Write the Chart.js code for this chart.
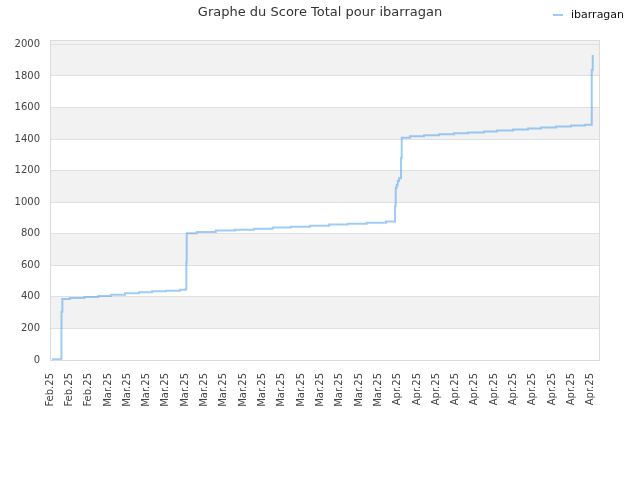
<!DOCTYPE html>
<html>
<head>
<meta charset="utf-8">
<script src="https://cdn.jsdelivr.net/npm/chart.js@4"></script>
<style>
html,body{margin:0;padding:0;background:#fff;}
#wrap{width:640px;height:480px;position:relative;}
</style>
</head>
<body>
<div id="wrap"><canvas id="c" width="640" height="480"></canvas></div>
<script>
const chartTitle = 'Graphe du Score Total pour ibarragan';
const seriesLabel = 'ibarragan';
const xLabels = ['Feb.25','Feb.25','Feb.25',
  'Mar.25','Mar.25','Mar.25','Mar.25','Mar.25','Mar.25','Mar.25','Mar.25','Mar.25','Mar.25','Mar.25','Mar.25','Mar.25','Mar.25','Mar.25',
  'Apr.25','Apr.25','Apr.25','Apr.25','Apr.25','Apr.25','Apr.25','Apr.25','Apr.25','Apr.25','Apr.25'];
const yTickValues = [0, 200, 400, 600, 800, 1000, 1200, 1400, 1600, 1800, 2000];
const stepX = [0.1, 0.59, 0.59, 0.596, 0.64, 1.036, 1.776, 2.501, 3.159, 3.884, 4.609, 5.282, 6.007, 6.732,
  7.03, 7.06, 7.079, 7.597, 8.581, 9.581, 10.564, 11.533, 12.48, 13.464, 14.448, 15.417, 16.401, 17.4,
  17.866, 17.902, 17.954, 18.006, 18.074, 18.177, 18.213, 18.643, 19.368, 20.145, 20.922, 21.647, 22.475,
  23.149, 23.977, 24.754, 25.427, 26.204, 26.981, 27.706, 28.053, 28.053, 28.105];
const scoreValues = [5, 84, 201, 306, 387, 393, 399, 406, 414, 423, 429, 435, 439, 446,
  452, 620, 803, 811, 820, 826, 832, 839, 845, 851, 858, 864, 870, 877,
  976, 1092, 1109, 1135, 1152, 1282, 1409, 1418, 1424, 1431, 1437, 1442, 1448,
  1455, 1461, 1467, 1474, 1480, 1486, 1491, 1659, 1838, 1933];
const yMax = 2028;
const xMax = 28.48;

const FONT = 'DejaVu Sans';

const bandsPlugin = {
  id: 'bands',
  beforeDraw(chart) {
    const {ctx, chartArea: a, scales: {y}} = chart;
    ctx.save();
    ctx.fillStyle = '#ffffff';
    ctx.fillRect(a.left, a.top, a.right - a.left, a.bottom - a.top);
    ctx.fillStyle = '#f2f2f2';
    for (let i = 0; i < yTickValues.length; i++) {
      const v = yTickValues[i];
      const next = i + 1 < yTickValues.length ? yTickValues[i + 1] : y.max;
      if (i % 2 === 1 || i === yTickValues.length - 1) {
        const top = Math.max(a.top, y.getPixelForValue(next));
        const bot = y.getPixelForValue(v);
        ctx.fillRect(a.left, top, a.right - a.left, bot - top);
      }
    }
    ctx.restore();
  },
  afterDraw(chart) {
    const {ctx, chartArea: a} = chart;
    ctx.save();
    ctx.strokeStyle = '#dcdcdc';
    ctx.lineWidth = 1;
    ctx.strokeRect(Math.round(a.left) + 0.5, Math.round(a.top) + 0.5, Math.round(a.right - a.left) - 1, Math.round(a.bottom - a.top));
    const ds = chart.data.datasets[0];
    ctx.strokeStyle = ds.borderColor;
    ctx.lineWidth = 2;
    ctx.beginPath();
    ctx.moveTo(553, 15);
    ctx.lineTo(563, 15);
    ctx.stroke();
    ctx.fillStyle = '#111';
    ctx.font = '11px "' + FONT + '"';
    ctx.textBaseline = 'middle';
    ctx.textAlign = 'left';
    ctx.fillText(ds.label, 571, 15);
    ctx.restore();
  }
};

new Chart(document.getElementById('c'), {
  type: 'line',
  data: {
    datasets: [{
      label: seriesLabel,
      data: stepX.map((x, i) => ({x: x, y: scoreValues[i]})),
      borderColor: 'rgba(80,160,240,0.55)',
      backgroundColor: 'rgba(80,160,240,0.55)',
      borderWidth: 2,
      pointRadius: 0,
      stepped: 'before',
      fill: false
    }]
  },
  options: {
    responsive: false,
    animation: false,
    devicePixelRatio: 1,
    layout: {padding: 0},
    plugins: {
      legend: {display: false},
      tooltip: {enabled: false},
      title: {
        display: true,
        text: chartTitle,
        color: '#333',
        font: {family: FONT, size: 13, weight: 'normal'},
        padding: {top: 5, bottom: 19.4}
      }
    },
    scales: {
      x: {
        type: 'linear',
        min: 0,
        max: xMax,
        afterFit: s => { s.height = 120; },
        afterBuildTicks: s => { s.ticks = xLabels.map((l, i) => ({value: i})); },
        grid: {display: false, drawTicks: false},
        border: {display: false},
        ticks: {
          autoSkip: false,
          minRotation: 90,
          maxRotation: 90,
          padding: 13,
          color: '#444',
          font: {family: FONT, size: 10},
          callback: v => xLabels[Math.round(v)]
        }
      },
      y: {
        min: 0,
        max: yMax,
        afterFit: s => { s.width = 50; },
        afterBuildTicks: s => { s.ticks = yTickValues.map(v => ({value: v})); },
        grid: {color: '#e0e0e0', drawTicks: false},
        border: {display: false},
        ticks: {
          autoSkip: false,
          padding: 10,
          color: '#444',
          font: {family: FONT, size: 10},
          callback: v => String(v)
        }
      },
      yRight: {
        position: 'right',
        display: true,
        afterFit: s => { s.width = 40; },
        grid: {display: false, drawTicks: false},
        border: {display: false},
        ticks: {display: false}
      }
    }
  },
  plugins: [bandsPlugin]
});
</script>
</body>
</html>
